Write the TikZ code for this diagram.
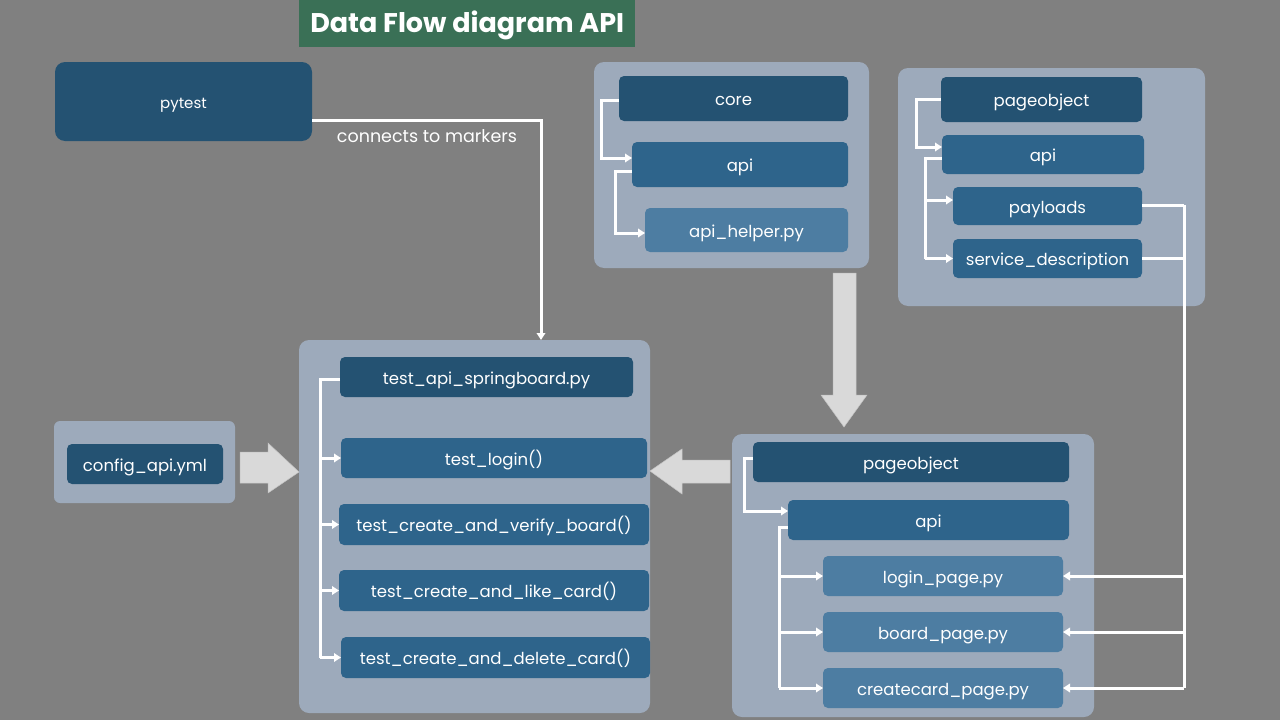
\documentclass[tikz,border=0pt]{standalone}
\usepackage{fontspec}
\setmainfont{Poppins}
\usetikzlibrary{arrows.meta}
\definecolor{bg}{RGB}{128,128,128}
\definecolor{titlegreen}{RGB}{58,112,86}
\definecolor{cont}{RGB}{157,170,187}
\definecolor{ndark}{RGB}{36,82,114}
\definecolor{nmid}{RGB}{46,100,139}
\definecolor{nlight}{RGB}{77,125,162}
\definecolor{bigarr}{RGB}{217,217,217}
\begin{document}
\begin{tikzpicture}[x=1pt,y=-1pt,
  container/.style={fill=cont,rounded corners=10pt,anchor=north west,inner sep=0pt,outer sep=0pt},
  boxbase/.style={rounded corners=5pt,anchor=north west,inner sep=0pt,outer sep=0pt,text=white,font=\fontsize{16.5}{18}\selectfont,text height=1.45em,text depth=0.05em},
  darknode/.style={boxbase,fill=ndark},
  midnode/.style={boxbase,fill=nmid},
  lightnode/.style={boxbase,fill=nlight},
  conn/.style={draw=white,line width=3pt,-{Triangle[length=7pt,width=8.5pt]}},
  plainline/.style={draw=white,line width=3pt},
  bigarrow/.style={fill=bigarr,draw=bigarr!90!black,line width=0.5pt}
]
\useasboundingbox (0,0) rectangle (1280,720);
\fill[bg] (0,0) rectangle (1280,720);

% title
\node[fill=titlegreen,anchor=north west,minimum width=336pt,minimum height=47pt,inner sep=0pt,text=white,font=\fontsize{27}{30}\selectfont\bfseries,text height=1.85em,text depth=0em] (title) at (299,0) {Data Flow diagram API};

% pytest
\node[darknode,minimum width=257pt,minimum height=79pt,rounded corners=10pt,font=\fontsize{15}{17}\selectfont] (pytest) at (55,62) {pytest};

% containers
\node[container,minimum width=275pt,minimum height=206pt] (corec) at (594,62) {};
\node[container,minimum width=307pt,minimum height=238pt] (poc1) at (898,68) {};
\node[container,minimum width=351pt,minimum height=373pt] (testc) at (299,340) {};
\node[container,minimum width=181pt,minimum height=82pt,rounded corners=6pt] (cfgc) at (54,421) {};
\node[container,minimum width=362pt,minimum height=283pt] (poc2) at (732,434) {};

% core group
\node[darknode,minimum width=229pt,minimum height=45pt] (core) at (619,76) {core};
\node[midnode,minimum width=216pt,minimum height=45pt] (api1) at (632,142) {api};
\node[lightnode,minimum width=203pt,minimum height=44pt] (helper) at (645,208) {api\_helper.py};

% top pageobject group
\node[darknode,minimum width=201pt,minimum height=45pt] (po1) at (941,77) {pageobject};
\node[midnode,minimum width=202pt,minimum height=39pt] (api2) at (942,135) {api};
\node[midnode,minimum width=189pt,minimum height=38pt] (pay) at (953,187) {payloads};
\node[midnode,minimum width=189pt,minimum height=39pt] (serv) at (953,239) {service\_description};

% test group
\node[darknode,minimum width=293pt,minimum height=40pt] (spring) at (340,357) {test\_api\_springboard.py};
\node[midnode,minimum width=306pt,minimum height=40pt] (tlogin) at (341,438) {test\_login()};
\node[midnode,minimum width=310pt,minimum height=41pt] (tverify) at (339,504) {test\_create\_and\_verify\_board()};
\node[midnode,minimum width=310pt,minimum height=41pt] (tlike) at (339,570) {test\_create\_and\_like\_card()};
\node[midnode,minimum width=309pt,minimum height=41pt] (tdel) at (341,637) {test\_create\_and\_delete\_card()};

% config
\node[darknode,minimum width=156pt,minimum height=40pt] (cfg) at (67,444) {config\_api.yml};

% bottom pageobject group
\node[darknode,minimum width=316pt,minimum height=40pt] (po2) at (753,442) {pageobject};
\node[midnode,minimum width=281pt,minimum height=40pt] (api3) at (788,500) {api};
\node[lightnode,minimum width=240pt,minimum height=40pt] (loginp) at (823,556) {login\_page.py};
\node[lightnode,minimum width=240pt,minimum height=40pt] (boardp) at (823,612) {board\_page.py};
\node[lightnode,minimum width=240pt,minimum height=40pt] (createp) at (823,668) {createcard\_page.py};

% pytest connector
\draw[conn] ([yshift=-18.5pt]pytest.east) -| ([xshift=66.5pt]testc.north);
\node[text=white,font=\fontsize{17.5}{20}\selectfont] (lbl) at (427,136) {connects to markers};

% core connectors
\draw[conn] ([yshift=-1.5pt]core.west) -- ++(-18,0) |- ([yshift=6.5pt]api1.west);
\draw[conn] ([yshift=-6.5pt]api1.west) -- ++(-17,0) |- ([yshift=-3pt]helper.west);

% top pageobject connectors
\draw[conn] (po1.west) -- ++(-25,0) |- ([yshift=7.5pt]api2.west);
\coordinate (tx2) at (925,0);
\draw[plainline] ([yshift=-3.5pt]api2.west) -| (tx2 |- serv.west);
\draw[conn] (tx2 |- serv.west) -- (serv.west);
\draw[conn] (tx2 |- 0,200) -- ([yshift=6pt]pay.west);

% bus from payloads / service_description to pages
\coordinate (bus) at (1184,0);
\draw[plainline] ([yshift=1pt]pay.east) -- (bus |- 0,205);
\draw[plainline] (serv.east) -- (bus |- serv.east);
\draw[plainline] (bus |- 0,205) -- (bus |- createp.east);
\draw[conn] (bus |- loginp.east) -- (loginp.east);
\draw[conn] (bus |- boardp.east) -- (boardp.east);
\draw[conn] (bus |- createp.east) -- (createp.east);

% test connectors
\coordinate (tx) at (320,0);
\draw[plainline] ([yshift=-2pt]spring.west) -| (tx |- tdel.west);
\draw[conn] (tx |- tlogin.west) -- (tlogin.west);
\draw[conn] (tx |- tverify.west) -- (tverify.west);
\draw[conn] (tx |- tlike.west) -- (tlike.west);
\draw[conn] (tx |- tdel.west) -- (tdel.west);

% bottom pageobject connectors
\draw[conn] ([yshift=4pt]po2.west) -- ++(-9,0) |- ([yshift=9pt]api3.west);
\coordinate (tx3) at (779,0);
\draw[plainline] ([yshift=-7pt]api3.west) -| (tx3 |- createp.west);
\draw[conn] (tx3 |- loginp.west) -- (loginp.west);
\draw[conn] (tx3 |- boardp.west) -- (boardp.west);
\draw[conn] (tx3 |- createp.west) -- (createp.west);

% big block arrows
\draw[bigarrow] (240,452) -- (268,452) -- (268,443) -- (299,472) -- (268,493) -- (268,483) -- (240,483) -- cycle;
\draw[bigarrow] (833,273) -- (856,273) -- (856,395) -- (867,395) -- (844,427) -- (821,395) -- (833,395) -- cycle;
\draw[bigarrow] (730,460) -- (682,460) -- (682,449) -- (650,471) -- (682,494) -- (682,483) -- (730,483) -- cycle;
\end{tikzpicture}
\end{document}
